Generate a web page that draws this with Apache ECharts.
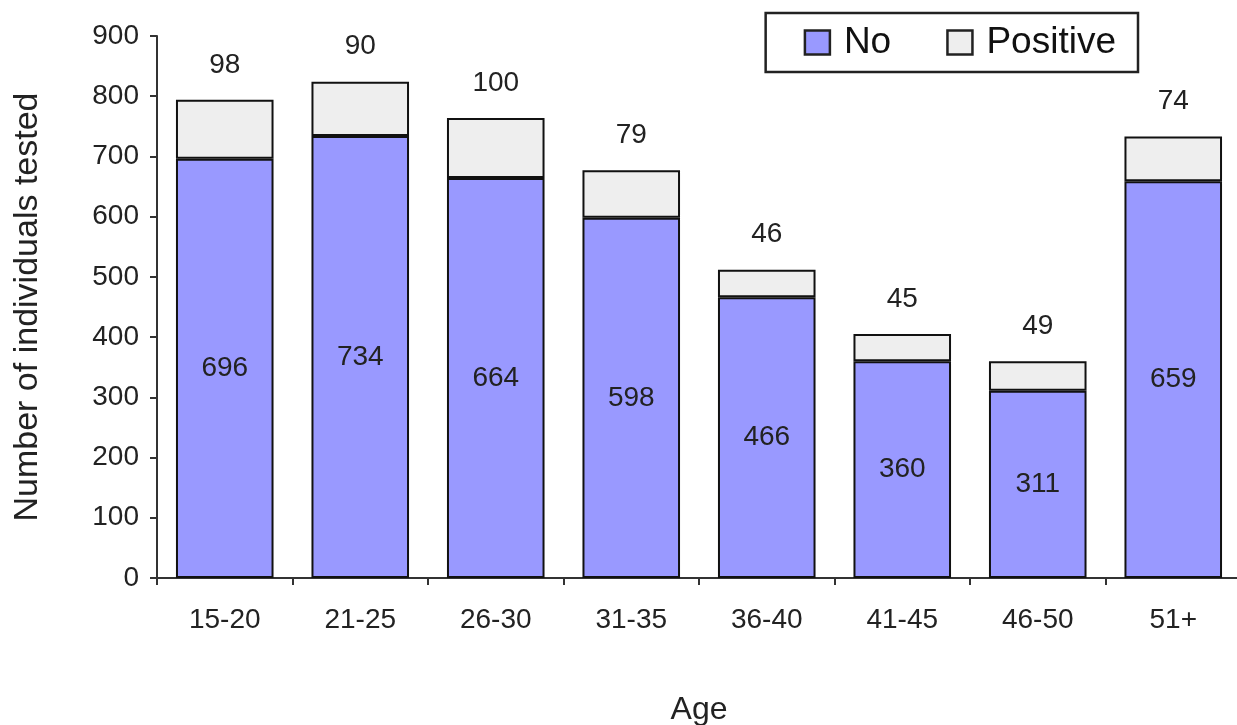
<!DOCTYPE html>
<html><head><meta charset="utf-8">
<script src="https://cdn.jsdelivr.net/npm/echarts@6/dist/echarts.min.js"></script>
<style>html,body{margin:0;padding:0;background:#fff}#c{width:1237px;height:725px}</style>
</head><body><div id="c"></div>
<script>
const categories = ['15-20','21-25','26-30','31-35','36-40','41-45','46-50','51+'];
const noValues = [696, 734, 664, 598, 466, 360, 311, 659];
const positiveValues = [98, 90, 100, 79, 46, 45, 49, 74];
const yTicks = {min: 0, max: 900, interval: 100};

const font = 'Liberation Sans, Arial, sans-serif';
const chart = echarts.init(document.getElementById('c'));
chart.setOption({
  animation: false,
  backgroundColor: '#fff',
  textStyle: {fontFamily: font, color: '#222'},
  grid: {left: 157, right: -4, top: 36, bottom: 147, containLabel: false, outerBoundsMode: 'none'},
  legend: {
    data: [{name: 'No'}, {name: 'Positive'}],
    right: 99, top: 13,
    orient: 'horizontal',
    borderColor: '#222', borderWidth: 2.5, borderRadius: 0,
    padding: [11, 22, 11, 38],
    itemWidth: 25, itemHeight: 24, itemGap: 55,
    icon: 'rect',
    textStyle: {fontSize: 37, color: '#111', fontFamily: font, padding: [0, 0, 0, 9]},
    itemStyle: {borderColor: '#222', borderWidth: 2.5}
  },
  xAxis: {
    type: 'category', data: categories,
    name: 'Age', nameLocation: 'middle', nameGap: 116,
    nameTextStyle: {fontSize: 32, color: '#222', fontFamily: font},
    axisLine: {lineStyle: {color: '#333', width: 2}},
    axisTick: {show: true, length: 7, lineStyle: {color: '#333', width: 2}},
    axisLabel: {fontSize: 28, color: '#222', margin: 28, fontFamily: font}
  },
  yAxis: {
    type: 'value', min: yTicks.min, max: yTicks.max, interval: yTicks.interval,
    name: 'Number of individuals tested', nameLocation: 'middle', nameGap: 112,
    nameRotate: 90,
    nameTextStyle: {fontSize: 34, color: '#222', fontFamily: font},
    axisLine: {show: true, lineStyle: {color: '#333', width: 2}},
    axisTick: {show: true, length: 7, lineStyle: {color: '#333', width: 2}},
    axisLabel: {fontSize: 28, color: '#222', margin: 18, fontFamily: font},
    splitLine: {show: false}
  },
  series: [
    {
      name: 'No', type: 'bar', stack: 'total', data: noValues,
      barWidth: '72%',
      itemStyle: {color: '#9999ff', borderColor: '#111', borderWidth: 2},
      label: {show: true, position: 'inside', fontSize: 28, color: '#222', fontFamily: font}
    },
    {
      name: 'Positive', type: 'bar', stack: 'total', data: positiveValues,
      barWidth: '72%',
      itemStyle: {color: '#eeeeee', borderColor: '#111', borderWidth: 2},
      label: {show: true, position: 'top', distance: 21, fontSize: 28, color: '#222', fontFamily: font}
    }
  ]
});
</script></body></html>
